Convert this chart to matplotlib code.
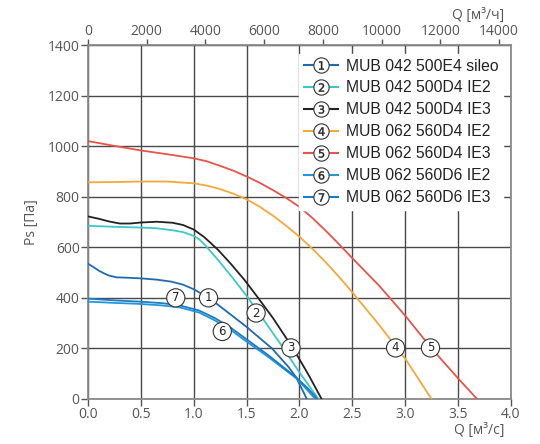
import matplotlib
matplotlib.use('Agg')
import matplotlib.pyplot as plt
from matplotlib.lines import Line2D
from matplotlib.legend_handler import HandlerTuple

## data (Q in m3/s, Ps in Pa)
q1 = [0, 0.05, 0.1, 0.15, 0.2, 0.27, 0.35, 0.5, 0.65, 0.79, 0.9, 1.0, 1.15, 1.3, 1.5, 1.74, 1.9, 1.97, 2.07]
p1 = [535, 522, 508, 497, 488, 481, 480, 477, 472, 464, 452, 434, 398, 350, 285, 200, 125, 85, 0]

q2 = [0, 0.25, 0.5, 0.65, 0.79, 0.9, 1.0, 1.05, 1.1, 1.15, 1.23, 1.37, 1.5, 1.65, 1.85, 2.0, 2.18]
p2 = [685, 681, 678, 675, 668, 660, 645, 632, 612, 588, 550, 478, 408, 320, 200, 105, 0]

q3 = [0, 0.1, 0.2, 0.3, 0.4, 0.5, 0.65, 0.8, 0.9, 1.0, 1.1, 1.23, 1.35, 1.48, 1.6, 1.75, 1.94, 2.08, 2.21]
p3 = [722, 713, 702, 694, 694, 698, 701, 697, 688, 670, 640, 590, 535, 471, 405, 320, 200, 100, 0]

q4 = [0, 0.25, 0.5, 0.75, 1.0, 1.125, 1.25, 1.375, 1.5, 1.625, 1.75, 1.875, 2.0, 2.125,
      2.25, 2.375, 2.5, 2.75, 3.0, 3.25]
p4 = [857, 858, 860, 860, 853, 844, 830, 812, 790, 760, 725, 685, 642, 593,
      540, 483, 422, 295, 160, 0]

q5 = [0, 0.25, 0.5, 0.75, 1.0, 1.125, 1.25, 1.375, 1.5, 1.625, 1.75, 1.875, 2.0, 2.125,
      2.25, 2.375, 2.5, 2.75, 3.0, 3.25, 3.5, 3.68]
p5 = [1020, 1001, 983, 968, 952, 940, 922, 903, 880, 855, 826, 795, 760, 715,
      665, 612, 557, 450, 330, 200, 82, 0]

q6 = [0, 0.25, 0.49, 0.7, 0.87, 1.05, 1.2, 1.35, 1.5, 1.7, 1.85, 1.97, 2.06, 2.15]
p6 = [385, 380, 376, 370, 362, 342, 311, 273, 227, 168, 120, 82, 42, 0]

q7 = [0, 0.25, 0.49, 0.7, 0.87, 1.05, 1.2, 1.35, 1.5, 1.7, 1.85, 1.97, 2.08, 2.17]
p7 = [397, 390, 385, 379, 370, 350, 320, 282, 236, 175, 125, 85, 42, 0]

names = ['MUB 042 500E4 sileo', 'MUB 042 500D4 IE2', 'MUB 042 500D4 IE3',
         'MUB 062 560D4 IE2', 'MUB 062 560D4 IE3', 'MUB 062 560D6 IE2',
         'MUB 062 560D6 IE3']
colors = ['#1f6bb0', '#3cc8c8', '#222222', '#f2a93b', '#e8534a', '#2196dc', '#1a7cc4']

# circled number labels on the chart
lab_q = [1.14, 1.59, 1.92, 2.91, 3.24, 1.27, 0.83]
lab_p = [400, 340, 202, 202, 202, 267, 400]

curves = [(q1, p1), (q2, p2), (q3, p3), (q4, p4), (q5, p5), (q6, p6), (q7, p7)]

tick_col = '#555555'
grid_col = '#4a4a4a'
spine_col = '#8a8a8a'

fig = plt.figure(figsize=(5.4, 4.44), dpi=100)
ax = fig.add_axes([0.163, 0.1014, 0.783, 0.7972])

for i, (q, p) in enumerate(curves):
    ax.plot(q, p, color=colors[i], lw=1.3, zorder=3, solid_joinstyle='round')

for i in range(len(lab_q)):
    ax.text(lab_q[i], lab_p[i], str(i + 1), ha='center', va='center', fontsize=8.5,
            color='#222222', family='DejaVu Sans', zorder=5,
            bbox=dict(boxstyle='circle,pad=0.22', fc='white', ec='#333333', lw=0.8))

ax.set_xlim(0, 4.0)
ax.set_ylim(0, 1400)
ax.set_xticks([0, 0.5, 1.0, 1.5, 2.0, 2.5, 3.0, 3.5, 4.0])
ax.set_xticklabels(['0.0', '0.5', '1.0', '1.5', '2.0', '2.5', '3.0', '3.5', '4.0'])
ax.set_yticks(range(0, 1401, 200))

## grids
ax.grid(True, color=grid_col, lw=1.0, zorder=0)
ax.set_axisbelow(True)

for s in ax.spines.values():
    s.set_color(spine_col)
    s.set_linewidth(1.3)

ax.tick_params(colors=tick_col, labelsize=10, length=5, width=1, direction='out')
for lab in ax.get_xticklabels() + ax.get_yticklabels():
    lab.set_family('Open Sans')
ax.tick_params(axis='x', pad=1)
ax.tick_params(axis='y', pad=1)

## top axis in m3/h
top = ax.secondary_xaxis('top', functions=(lambda x: x * 3600, lambda x: x / 3600))
top.set_xticks(range(0, 14001, 2000))
top.tick_params(colors=tick_col, labelsize=10, length=4, width=1, pad=0)
for lab in top.get_xticklabels():
    lab.set_family('Open Sans')
top.spines['top'].set_color(spine_col)

## labels
ax.text(0.985, -0.09, 'Q [м³/с]', transform=ax.transAxes, ha='right', va='center',
        fontsize=10, color=tick_col, family='Open Sans')
ax.text(0.985, 1.082, 'Q [м³/ч]', transform=ax.transAxes, ha='right', va='center',
        fontsize=10, color=tick_col, family='Open Sans')
ax.set_ylabel('Ps [Па]', fontsize=10, color=tick_col, family='Open Sans', labelpad=6)

## legend
handles = []
for i in range(len(names)):
    ln = Line2D([], [], color=colors[i], lw=1.5, marker='o', markersize=11,
                markerfacecolor='white', markeredgecolor='#333333', markeredgewidth=0.8)
    num = Line2D([], [], ls='none', marker='$%d$' % (i + 1), markersize=6,
                 color='#222222', markeredgewidth=0.3)
    handles.append((ln, num))
leg = ax.legend(handles, names, handler_map={tuple: HandlerTuple(ndivide=1, pad=0)},
                loc='upper left', bbox_to_anchor=(0.499, 0.975), frameon=True,
                fancybox=False, framealpha=1.0, edgecolor='white', handlelength=2.2,
                handletextpad=0.5, labelspacing=0.44, borderpad=0.3, borderaxespad=0,
                prop={'family': 'Liberation Sans', 'size': 11.3})
leg.set_zorder(6)
leg.set_clip_on(False)
for t in leg.get_texts():
    t.set_color('#222222')

fig.savefig('out.png', dpi=100)
